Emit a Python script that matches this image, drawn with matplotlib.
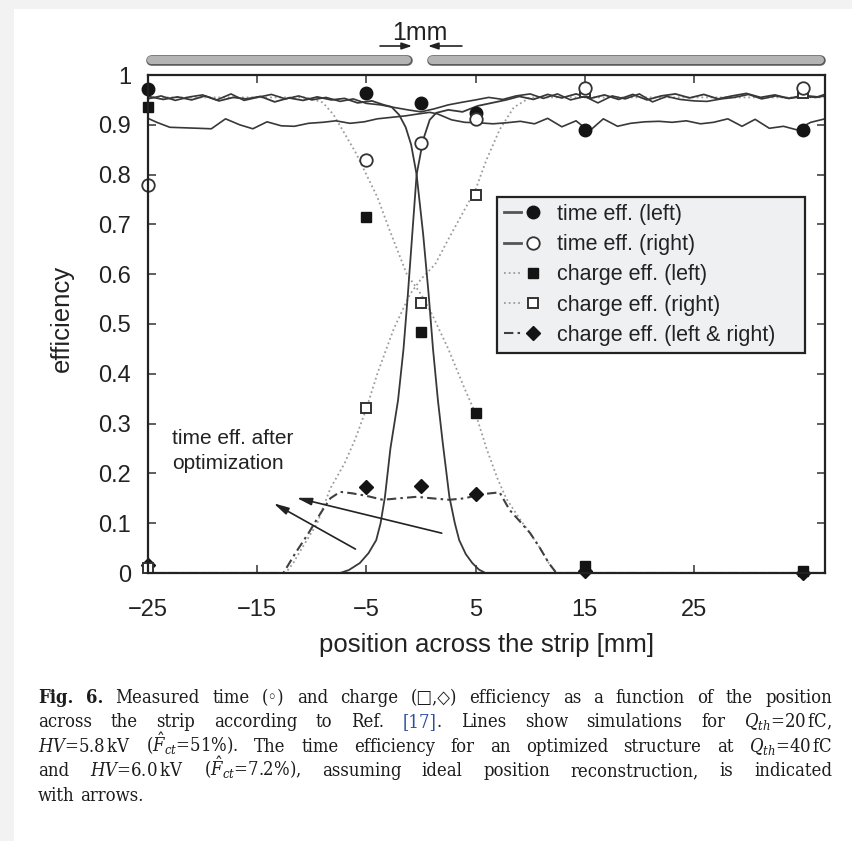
import matplotlib
matplotlib.use("Agg")
import matplotlib.pyplot as plt
import matplotlib.transforms as mtransforms
import matplotlib.patheffects as pe
from matplotlib import font_manager as fm
from matplotlib.lines import Line2D
from matplotlib.patches import Rectangle
from matplotlib.legend_handler import HandlerBase

plt.rcParams["font.family"] = ["Liberation Sans", "DejaVu Sans"]

# caption typeface: a condensed serif if one is installed
_has_cond = any(f.name == "DejaVu Serif" and f.stretch == "condensed"
                for f in fm.fontManager.ttflist)
if _has_cond:
    CAP_FAMILY = ["DejaVu Serif", "DejaVu Sans"]
    CAP_STRETCH = "condensed"
    plt.rcParams["mathtext.fontset"] = "custom"
    plt.rcParams["mathtext.rm"] = "DejaVu Serif:stretch=condensed"
    plt.rcParams["mathtext.it"] = "DejaVu Serif:italic:stretch=condensed"
    plt.rcParams["mathtext.bf"] = "DejaVu Serif:bold:stretch=condensed"
else:
    CAP_FAMILY = ["Liberation Serif", "DejaVu Sans"]
    CAP_STRETCH = "normal"
    plt.rcParams["mathtext.fontset"] = "custom"
    plt.rcParams["mathtext.rm"] = "Liberation Serif"
    plt.rcParams["mathtext.it"] = "Liberation Serif:italic"
    plt.rcParams["mathtext.bf"] = "Liberation Serif:bold"

# ---- measured efficiencies ----
positions = [-25, -5, 0, 5, 15, 35]
time_left = [0.972, 0.964, 0.944, 0.924, 0.890, 0.890]
time_right = [0.779, 0.829, 0.864, 0.912, 0.974, 0.974]
charge_left = [0.936, 0.715, 0.484, 0.321, 0.014, 0.004]
charge_right = [0.010, 0.331, 0.542, 0.759, 0.966, 0.964]
charge_both = [0.016, 0.173, 0.175, 0.159, 0.004, 0.0]

# ---- simulations ----
sim_tl_x = [-25, -23.6, -22.3, -21, -19.8, -18.5, -17.2, -16, -14.7, -13.4,
            -12.1, -10.8, -9.5, -8.2, -7, -5.8, -4.5, -3.4, -2.7, -2.0,
            -1.4, -0.9, -0.4, 0.2, 0.7, 1.1, 1.55, 2.0, 2.6, 3.1,
            3.5, 4.1, 4.7, 5.3, 5.9, 37]
sim_tl_y = [0.957, 0.951, 0.956, 0.950, 0.958, 0.948, 0.955, 0.952, 0.957, 0.946,
            0.954, 0.949, 0.956, 0.950, 0.953, 0.944, 0.948, 0.940, 0.936, 0.92,
            0.895, 0.86, 0.80, 0.68, 0.56, 0.45, 0.347, 0.26, 0.153, 0.10,
            0.066, 0.038, 0.02, 0.007, 0.0, 0.0]

sim_tr_x = [-25, -7.4, -6.6, -5.6, -4.8, -4.1, -3.7, -3.3, -2.8, -2.1,
            -1.6, -1.2, -0.8, -0.4, 0.2, 0.8, 1.4, 2.5, 3.8, 5.2,
            6.5, 7.8, 9.0, 10.3, 11.6, 12.9, 14.2, 15.5, 16.8, 18.1,
            19.4, 20.7, 22, 23.3, 24.6, 25.9, 27.2, 28.5, 29.8, 31.1,
            32.4, 33.7, 35, 36.3, 37]
sim_tr_y = [0, 0, 0.006, 0.02, 0.04, 0.066, 0.10, 0.153, 0.25, 0.347,
            0.45, 0.56, 0.68, 0.80, 0.87, 0.91, 0.924, 0.93, 0.926, 0.938,
            0.944, 0.950, 0.957, 0.951, 0.961, 0.954, 0.962, 0.953, 0.960, 0.951,
            0.961, 0.950, 0.958, 0.962, 0.954, 0.961, 0.952, 0.958, 0.963, 0.955,
            0.960, 0.953, 0.959, 0.956, 0.961]

sim_opt_hi_x = [-25, -23.8, -22.5, -21.2, -20, -18.7, -17.4, -16.2, -15, -13.7,
                -12.4, -11.2, -10, -8.7, -7.4, -6.2, -5, -3.7, -2.5, -1.2,
                0, 1.2, 2.5, 3.7, 5, 6.2, 7.5, 8.7, 10, 11.2,
                12.5, 13.7, 15, 16.2, 17.5, 18.7, 20, 21.2, 22.5, 23.7,
                25, 26.2, 27.5, 28.7, 30, 31.2, 32.5, 33.7, 35, 36.2, 37]
sim_opt_hi_y = [0.952, 0.958, 0.949, 0.956, 0.960, 0.950, 0.962, 0.949, 0.955, 0.961,
                0.952, 0.958, 0.950, 0.955, 0.947, 0.952, 0.943, 0.940, 0.935, 0.930,
                0.926, 0.932, 0.940, 0.945, 0.950, 0.955, 0.951, 0.958, 0.962, 0.953,
                0.962, 0.950, 0.957, 0.944, 0.958, 0.952, 0.962, 0.946, 0.957, 0.951,
                0.948, 0.947, 0.952, 0.955, 0.961, 0.952, 0.958, 0.953, 0.957, 0.955, 0.958]

sim_opt_lo_x = [-25, -24.2, -23, -21.7, -20.4, -19.2, -17.9, -16.6, -15.4, -14.1,
                -12.8, -11.6, -10.3, -9, -7.8, -6.5, -5.2, -4, -2.7, -1.4,
                -0.2, 0.8, 1.5, 2.8, 4, 5.3, 6.6, 7.8, 9.1, 10.4,
                11.6, 12.9, 14.2, 15.4, 16.7, 18, 19.2, 20.5, 21.8, 23,
                24.3, 25.6, 26.8, 28.1, 29.4, 30.6, 31.9, 33.2, 34.4, 35.7, 37]
sim_opt_lo_y = [0.913, 0.905, 0.895, 0.894, 0.893, 0.892, 0.912, 0.900, 0.892, 0.906,
                0.898, 0.897, 0.903, 0.905, 0.908, 0.903, 0.906, 0.912, 0.915, 0.918,
                0.922, 0.925, 0.922, 0.910, 0.905, 0.904, 0.902, 0.904, 0.907, 0.902,
                0.913, 0.896, 0.908, 0.887, 0.912, 0.897, 0.903, 0.906, 0.907, 0.905,
                0.908, 0.902, 0.905, 0.912, 0.897, 0.911, 0.893, 0.897, 0.890, 0.905, 0.912]

sim_cl_x = [-25, -10.5, -9, -8, -7.2, -6, -5, -4, -2.9, -1.3, 0, 1, 2.5, 4, 5, 6,
            7, 7.8, 9, 10, 10.9, 11.7, 12.4, 37]
sim_cl_y = [0.955, 0.955, 0.945, 0.92, 0.89, 0.845, 0.80, 0.755, 0.69, 0.60, 0.56,
            0.52, 0.45, 0.37, 0.32, 0.25, 0.19, 0.15, 0.11, 0.08, 0.05, 0.02, 0.0, 0.0]

sim_cr_x = [-25, -12.4, -11.7, -10.9, -9.5, -8.3, -7, -6, -5, -4, -2.5, -1, 0,
            1.3, 2.5, 4, 5, 6, 7.2, 8.5, 10, 37]
sim_cr_y = [0, 0, 0.02, 0.05, 0.10, 0.17, 0.22, 0.27, 0.33, 0.40, 0.49, 0.56, 0.59,
            0.62, 0.67, 0.73, 0.77, 0.83, 0.89, 0.935, 0.955, 0.955]

sim_cb_x = [-25, -13.6, -12.6, -11.5, -10.3, -9.2, -8.3, -7.4, -6.3, -5,
            -3.5, -2, -0.4, 1, 2.6, 4, 5.5, 7.2, 8.1, 9,
            10, 10.9, 11.7, 12.4, 37]
sim_cb_y = [0, 0, 0.0, 0.04, 0.08, 0.12, 0.15, 0.163, 0.16, 0.155,
            0.147, 0.15, 0.153, 0.15, 0.147, 0.15, 0.158, 0.162, 0.127, 0.105,
            0.08, 0.05, 0.02, 0.0, 0.0]

x_ticks = [-25, -15, -5, 5, 15, 25]
y_ticks = [0, 0.1, 0.2, 0.3, 0.4, 0.5, 0.6, 0.7, 0.8, 0.9, 1.0]
y_ticklabels = ["0", "0.1", "0.2", "0.3", "0.4", "0.5", "0.6", "0.7", "0.8", "0.9", "1"]

legend_labels = ["time eff. (left)", "time eff. (right)", "charge eff. (left)",
                 "charge eff. (right)", "charge eff. (left & right)"]

W, H = 852, 841
fig = plt.figure(figsize=(W / 100, H / 100), dpi=100, facecolor="#f2f2f2")
fig.add_artist(Rectangle((14 / W, 0), 1, 1 - 9 / H, transform=fig.transFigure,
                         facecolor="white", edgecolor="none", zorder=-10))

L, R, T, Bt = 148, 825, 75, 573
ax = fig.add_axes([L / W, 1 - Bt / H, (R - L) / W, (Bt - T) / H])
ax.set_xlim(-25, 37)
ax.set_ylim(0, 1)

solid_c = "#383838"
dot_c = "#9c9c9c"
dd_c = "#404040"
dotted = (0, (1, 1.6))
dashdot = (0, (4.5, 2, 1.2, 2))

ax.plot(sim_opt_hi_x, sim_opt_hi_y, color=solid_c, lw=1.2, zorder=2)
ax.plot(sim_opt_lo_x, sim_opt_lo_y, color=solid_c, lw=1.2, zorder=2)
ax.plot(sim_tl_x, sim_tl_y, color=solid_c, lw=1.3, zorder=2)
ax.plot(sim_tr_x, sim_tr_y, color=solid_c, lw=1.3, zorder=2)
ax.plot(sim_cl_x, sim_cl_y, color=dot_c, lw=1.3, ls=dotted, zorder=1.8)
ax.plot(sim_cr_x, sim_cr_y, color=dot_c, lw=1.3, ls=dotted, zorder=1.8)
ax.plot(sim_cb_x, sim_cb_y, color=dd_c, lw=1.5, ls=dashdot, zorder=1.9)

mk_dark = "#141414"
ax.plot(positions, charge_both, ls="none", marker="D", ms=7.5, mfc=mk_dark, mec=mk_dark, zorder=4, clip_on=False)
ax.plot(positions, charge_left, ls="none", marker="s", ms=7, mfc=mk_dark, mec=mk_dark, zorder=4, clip_on=False)
ax.plot(positions, charge_right, ls="none", marker="s", ms=7, mfc="white", mec="#333333", mew=1.4, zorder=4, clip_on=False)
ax.plot(positions, time_left, ls="none", marker="o", ms=9, mfc=mk_dark, mec=mk_dark, zorder=4, clip_on=False)
ax.plot(positions, time_right, ls="none", marker="o", ms=9, mfc="white", mec="#333333", mew=1.3, zorder=4, clip_on=False)

# axes styling
for s in ax.spines.values():
    s.set_linewidth(1.6)
    s.set_color("#222222")
    s.set_zorder(5)
ax.set_xticks(x_ticks)
ax.set_yticks(y_ticks)
ax.set_yticklabels(y_ticklabels)
ax.tick_params(direction="in", length=6, width=1.1, color="#333333",
               top=True, right=True, labelsize=17, labelcolor="#222222")
ax.tick_params(axis="x", pad=19)
ax.tick_params(axis="y", pad=12)
ax.set_xlabel("position across the strip [mm]", fontsize=18.5, color="#222222")
ax.set_ylabel("efficiency", fontsize=18.5, color="#222222")
ax.xaxis.label.set_va("center")
ax.yaxis.label.set_va("center")
ax.xaxis.set_label_coords(0.5, (Bt - 645) / (Bt - T))
ax.yaxis.set_label_coords((62 - L) / (R - L), (Bt - 318) / (Bt - T))


# legend: short line sample followed by the marker
class LineThenMarker(HandlerBase):
    def create_artists(self, legend, orig, xdescent, ydescent, width, height, fontsize, trans):
        y = height / 2.0 - ydescent
        x0 = -xdescent
        seg = Line2D([x0, x0 + 0.5 * width], [y, y])
        seg.update_from(orig)
        seg.set_marker("None")
        mk = Line2D([x0 + 0.84 * width], [y])
        mk.update_from(orig)
        mk.set_linestyle("None")
        seg.set_transform(trans)
        mk.set_transform(trans)
        return [seg, mk]


handles = [
    Line2D([], [], color="#555555", lw=2.0, marker="o", ms=9, mfc=mk_dark, mec=mk_dark),
    Line2D([], [], color="#555555", lw=2.0, marker="o", ms=9, mfc="white", mec="#333333", mew=1.3),
    Line2D([], [], color=dot_c, lw=1.3, ls=dotted, marker="s", ms=7, mfc=mk_dark, mec=mk_dark),
    Line2D([], [], color=dot_c, lw=1.3, ls=dotted, marker="s", ms=7, mfc="white", mec="#333333", mew=1.4),
    Line2D([], [], color=dd_c, lw=1.5, ls=dashdot, marker="D", ms=7.5, mfc=mk_dark, mec=mk_dark),
]
lx0 = (497 - L) / (R - L)
ly1 = (Bt - 197) / (Bt - T)
lw_ = (805 - 497) / (R - L)
lh_ = (352 - 197) / (Bt - T)
leg = ax.legend(handles, legend_labels, loc="upper left",
                bbox_to_anchor=(lx0, ly1 - lh_, lw_, lh_), mode="expand",
                borderaxespad=0, fontsize=15.5, handlelength=1.6, handletextpad=0.85,
                labelspacing=0.43, borderpad=0.32, fancybox=False, framealpha=1,
                facecolor="#eef0f2", edgecolor="#222222",
                handler_map={Line2D: LineThenMarker()})
leg.get_frame().set_linewidth(1.6)
for t in leg.get_texts():
    t.set_color("#222222")
leg.set_zorder(6)

# annotation and arrows
ax.text(-22.8, 0.271, "time eff. after", fontsize=15, va="center", ha="left", color="#222222")
ax.text(-22.8, 0.219, "optimization", fontsize=15, va="center", ha="left", color="#222222")
arrow_kw = dict(arrowstyle="-|>,head_length=0.9,head_width=0.22", color="#222222",
                lw=1.2, shrinkA=0, shrinkB=0)
ax.annotate("", xy=(-13.5, 0.14), xytext=(-6.0, 0.048), arrowprops=arrow_kw)
ax.annotate("", xy=(-11.4, 0.151), xytext=(1.9, 0.080), arrowprops=arrow_kw)

# strip electrodes above the plot with the 1 mm gap
blend = mtransforms.blended_transform_factory(ax.transData, ax.transAxes)
bar_y = (Bt - 60) / (Bt - T)
for x0, x1 in [(-24.75, -1.25), (1.05, 36.5)]:
    ax.plot([x0, x1], [bar_y, bar_y], transform=blend, clip_on=False, lw=5.8,
            color="#b4b4b4", solid_capstyle="round",
            path_effects=[pe.Stroke(linewidth=7.6, foreground="#5a5a5a"), pe.Normal()])
gap_y = (Bt - 46) / (Bt - T)
small_arrow = dict(arrowstyle="-|>,head_length=0.6,head_width=0.2", color="#222222",
                   lw=1.2, shrinkA=0, shrinkB=0)
ax.annotate("", xy=(-0.82, gap_y), xytext=(-3.75, gap_y), xycoords=blend,
            textcoords=blend, arrowprops=small_arrow, annotation_clip=False)
ax.annotate("", xy=(0.64, gap_y), xytext=(3.75, gap_y), xycoords=blend,
            textcoords=blend, arrowprops=small_arrow, annotation_clip=False)
ax.text(-0.1, (Bt - 33) / (Bt - T), "1mm", transform=blend, fontsize=18,
        ha="center", va="center", color="#222222", clip_on=False)

# caption, justified between fixed margins
caption = [
    [[("Fig.", "b")], [("6.", "b")], "Measured", "time", "(\u25e6)", "and", "charge",
     "(\u25a1,\u25c7)", "efficiency", "as", "a", "function", "of", "the", "position"],
    ["across", "the", "strip", "according", "to", "Ref.", [("[17]", "l"), (".", "n")],
     "Lines", "show", "simulations", "for", r"$Q_{th}$=20$\,$fC,"],
    [r"$HV$=5.8$\,$kV", r"($\hat{F}_{ct}$=51%).", "The", "time",
     "efficiency", "for", "an", "optimized", "structure", "at", r"$Q_{th}$=40$\,$fC"],
    ["and", r"$HV$=6.0$\,$kV", r"($\hat{F}_{ct}$=7.2%),", "assuming",
     "ideal", "position", "reconstruction,", "is", "indicated"],
    ["with", "arrows."],
]
cap_left, cap_right = 38, 832
cap_base0, cap_pitch = 703, 24.4


def cap_styles(fs):
    base = dict(family=CAP_FAMILY, stretch=CAP_STRETCH, size=fs, color="#1c1c1c")
    return {"n": base, "b": dict(base, weight="bold"), "l": dict(base, color="#2d4e9e")}


fig.canvas.draw()
rend = fig.canvas.get_renderer()


def build(fs):
    st = cap_styles(fs)
    lines = []
    for line in caption:
        words = []
        for w in line:
            pieces = w if isinstance(w, list) else [(w, "n")]
            objs = []
            for s, k in pieces:
                t = fig.text(0, 0, s, ha="left", va="baseline", **st[k])
                objs.append((t, t.get_window_extent(rend).width))
            words.append(objs)
        lines.append(words)
    probe_a = fig.text(0, 0, "x x", **st["n"])
    probe_b = fig.text(0, 0, "xx", **st["n"])
    sp = probe_a.get_window_extent(rend).width - probe_b.get_window_extent(rend).width
    probe_a.remove()
    probe_b.remove()
    return lines, sp


def natural_width(words, sp):
    return sum(sum(o[1] for o in objs) for objs in words) + sp * (len(words) - 1)


fs = 13.2
lines, sp = build(fs)
widest = max(natural_width(w, sp) for w in lines)
avail = cap_right - cap_left
if widest > avail * 0.985:
    for words in lines:
        for objs in words:
            for t, _ in objs:
                t.remove()
    fs = fs * avail * 0.985 / widest
    lines, sp = build(fs)

for i, words in enumerate(lines):
    base_px = cap_base0 + i * cap_pitch
    y = 1 - base_px / H
    word_w = [sum(o[1] for o in objs) for objs in words]
    last = i == len(lines) - 1
    gap = sp if last else (avail - sum(word_w)) / (len(words) - 1)
    x = cap_left
    for objs, ww in zip(words, word_w):
        xp = x
        for t, w in objs:
            t.set_position((xp / W, y))
            xp += w
        x += ww + gap

fig.savefig("out.png", dpi=100, facecolor=fig.get_facecolor())
